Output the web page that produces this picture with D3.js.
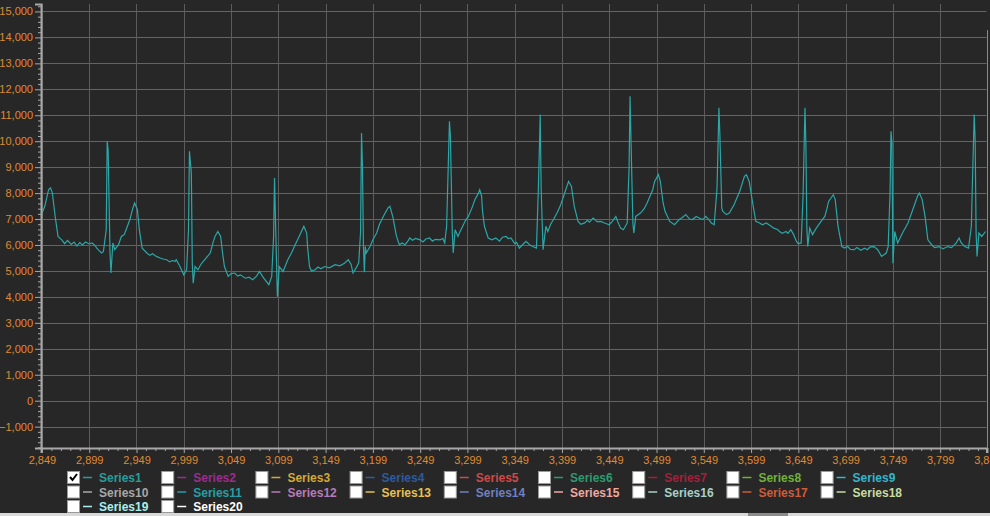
<!DOCTYPE html>
<html>
<head>
<meta charset="utf-8">
<script src="https://cdn.jsdelivr.net/npm/d3@7"></script>
<style>
  body { margin: 0; background: #272727; }
  svg { display: block; }
  .tick text { font-family: "Liberation Sans", Arial, sans-serif; font-size: 11px; fill: #e08a30; }
  .legend text { font-family: "Liberation Sans", Arial, sans-serif; font-size: 12px; font-weight: bold; }
</style>
</head>
<body>
<div id="chart"></div>
<script>
// samples of Series1
var sampleX = [2849,2852,2856,2858,2860,2863,2866,2870,2873,2876,2880,2883,2886,2889,2892,2895,2899,2902,2905,2907,
  2909,2912,2914,2917,2918,2919,2921,2922,2924,2926,2930,2933,2936,2938,2942,2945,2947,2950,2952,2955,
  2960,2963,2966,2970,2974,2977,2981,2984,2987,2990,2991,2995,2999,3002,3004,3005,3007,3008,3009,3011,
  3014,3017,3021,3027,3030,3032,3035,3038,3040,3042,3046,3049,3053,3056,3059,3064,3068,3072,3076,3079,
  3083,3085,3089,3092,3094,3095,3096,3098,3100,3104,3107,3109,3113,3116,3122,3126,3129,3130,3132,3134,
  3138,3141,3144,3148,3153,3159,3164,3169,3173,3176,3178,3181,3184,3186,3187,3188,3189,3190,3191,3192,
  3196,3199,3203,3206,3210,3215,3217,3220,3224,3227,3230,3233,3236,3238,3241,3244,3249,3252,3255,3259,
  3262,3265,3270,3273,3275,3277,3280,3281,3283,3284,3286,3289,3291,3294,3297,3300,3304,3307,3310,3312,
  3314,3315,3317,3321,3325,3329,3333,3336,3340,3342,3345,3349,3351,3354,3357,3361,3365,3368,3372,3374,
  3376,3377,3379,3382,3384,3387,3390,3394,3397,3400,3403,3406,3409,3412,3416,3419,3423,3426,3428,3432,
  3436,3440,3444,3449,3452,3456,3458,3461,3464,3468,3470,3471,3472,3474,3475,3477,3482,3486,3489,3495,
  3497,3501,3503,3506,3508,3513,3518,3521,3523,3526,3530,3534,3537,3541,3544,3548,3551,3554,3557,3560,
  3563,3565,3566,3568,3569,3573,3576,3581,3587,3592,3594,3597,3601,3604,3608,3611,3615,3618,3621,3623,
  3627,3629,3632,3636,3638,3641,3644,3647,3649,3652,3654,3656,3657,3658,3659,3661,3664,3668,3673,3677,
  3679,3681,3686,3688,3691,3695,3698,3701,3704,3708,3711,3715,3719,3722,3725,3729,3733,3737,3742,3744,
  3746,3747,3748,3749,3751,3754,3760,3765,3770,3775,3777,3780,3783,3786,3790,3793,3798,3802,3807,3811,
  3816,3819,3821,3825,3829,3832,3833,3835,3836,3837,3838,3840,3843,3847];
var sampleY = [7230,7490,8130,8200,8010,7100,6330,6200,6050,6180,6020,6110,5960,6090,6000,6120,6040,6080,5980,5880,
  5800,5690,5750,6590,10000,9680,5690,4920,6080,5820,6010,6330,6400,6590,6980,7400,7620,7360,6590,5880,
  5690,5600,5660,5560,5500,5460,5430,5350,5400,5370,5430,5170,4850,5050,6590,9610,8780,5300,4530,5170,
  5045,5250,5430,5690,6100,6330,6520,6330,5700,5170,4790,4900,4920,4800,4850,4720,4760,4660,4800,4980,
  4750,4660,4470,4790,6330,8580,6980,4010,5170,4980,5250,5430,5700,5940,6400,6720,6460,5900,5170,5000,
  5045,5150,5080,5170,5120,5240,5200,5300,5430,5250,4920,5100,5300,6500,10320,9030,6000,4950,5940,5690,
  5940,6200,6460,6800,7100,7430,7490,7100,6330,6010,6080,6010,6150,6270,6180,6250,6200,6120,6230,6270,
  6150,6220,6200,6250,6080,6720,10770,10190,6460,5690,6590,6330,6500,6720,6950,7100,7450,7750,7950,8130,
  7880,7300,6720,6270,6200,6270,6150,6300,6330,6250,6270,6050,6100,5880,6000,6140,6000,5940,5880,8130,
  11030,8130,5820,6720,6520,6800,6980,7250,7490,7800,8130,8450,8260,7490,6910,6800,6850,6950,6880,7040,
  6900,6910,6850,6780,6900,7100,6900,6650,6590,6850,9030,11730,10060,6850,6460,7100,7230,7400,7620,8130,
  8450,8710,8450,7620,7300,6910,6780,6900,6980,7050,7170,7000,6980,7100,7040,6980,7100,7000,6850,6780,
  8200,11290,10260,7430,7300,7170,7230,7550,8070,8650,8710,8450,7550,6910,6850,6780,6850,6780,6700,6650,
  6600,6520,6450,6520,6450,6590,6400,6140,6050,6080,7940,11290,9870,6650,5940,6650,6400,6650,6910,7100,
  7360,7680,7940,7750,6720,5940,5880,5950,5830,5820,5900,5800,5880,5820,5930,5940,5820,5560,5690,5940,
  8000,10380,9930,5300,6520,6080,6520,6850,7360,7880,8000,7750,7100,6200,6010,5900,5940,5850,5940,5900,
  6080,6270,6100,5940,5880,6720,8260,11030,10060,6460,5560,6460,6330,6520];

var xTicks = [2849,2899,2949,2999,3049,3099,3149,3199,3249,3299,3349,3399,3449,3499,3549,3599,3649,3699,3749,3799,3849];
var yTicks = [-1000,0,1000,2000,3000,4000,5000,6000,7000,8000,9000,10000,11000,12000,13000,14000,15000];

var seriesNames = ["Series1","Series2","Series3","Series4","Series5","Series6","Series7","Series8","Series9","Series10",
  "Series11","Series12","Series13","Series14","Series15","Series16","Series17","Series18","Series19","Series20"];
var seriesColors = ["#2a9c9c","#9b2d8f","#d4a83a","#2f5a9e","#d04848","#2e9a6e","#a3203a","#6fb23a","#33b5cc","#a8a8a8",
  "#22a0a8","#b87ab8","#e8c050","#7080c0","#f0a8a0","#a8d0c8","#d05a3a","#c8dca0","#a8f0f0","#ffffff"];
var checked = [true,false,false,false,false,false,false,false,false,false,
  false,false,false,false,false,false,false,false,false,false];

var svgWidth = 990;
var svgHeight = 516;
var plot = {left: 41, right: 986.5, top: 4, bottom: 448};

var svg = d3.select("#chart").append("svg")
  .attr("width", svgWidth)
  .attr("height", svgHeight);

svg.append("rect").attr("width", svgWidth).attr("height", svgHeight).attr("fill", "#272727");

var x = d3.scaleLinear().domain([2848, 3848]).range([plot.left, plot.right]);
var y = d3.scaleLinear().domain([-1823, 15287]).range([plot.bottom, plot.top]);

// grid
svg.append("g").selectAll("line").data(yTicks).enter().append("line")
  .attr("x1", plot.left).attr("x2", plot.right)
  .attr("y1", d => Math.round(y(d)) + 0.5).attr("y2", d => Math.round(y(d)) + 0.5)
  .attr("stroke", "#646464");
svg.append("g").selectAll("line").data(xTicks.filter(d => x(d) < plot.right)).enter().append("line")
  .attr("x1", d => Math.round(x(d)) + 0.5).attr("x2", d => Math.round(x(d)) + 0.5)
  .attr("y1", plot.top).attr("y2", plot.bottom)
  .attr("stroke", "#5c5c5c");

// series line
svg.append("clipPath").attr("id", "clip").append("rect")
  .attr("x", plot.left).attr("y", plot.top)
  .attr("width", plot.right - plot.left).attr("height", plot.bottom - plot.top);

var line = d3.line()
  .x((d, i) => x(sampleX[i]))
  .y(d => y(d));

svg.append("path")
  .datum(sampleY)
  .attr("clip-path", "url(#clip)")
  .attr("fill", "none")
  .attr("stroke", "#2ca6a6")
  .attr("stroke-width", 1.2)
  .attr("d", line);

// minor ticks
var yMinor = d3.range(-1800, 15201, 200).filter(d => d % 1000 !== 0);
var xMinor = d3.range(2849, 3848, 10).filter(d => (d - 2849) % 50 !== 0);

var yAxis = svg.append("g")
  .attr("transform", `translate(${plot.left},0)`)
  .call(d3.axisLeft(y).tickValues(yTicks).tickSize(6).tickPadding(2).tickFormat(d3.format(",")));
svg.append("g")
  .attr("transform", `translate(${plot.left},0)`)
  .call(d3.axisLeft(y).tickValues(yMinor).tickSize(3).tickFormat(""))
  .select(".domain").remove();

var xAxis = svg.append("g")
  .attr("transform", `translate(0,${plot.bottom})`)
  .call(d3.axisBottom(x).tickValues(xTicks).tickSize(5).tickPadding(3).tickFormat(d3.format(",")));
svg.append("g")
  .attr("transform", `translate(0,${plot.bottom})`)
  .call(d3.axisBottom(x).tickValues(xMinor).tickSize(3).tickFormat(""))
  .select(".domain").remove();

svg.selectAll(".domain").attr("stroke", "#a8a8a8").attr("stroke-width", 2);
svg.selectAll(".tick line").attr("stroke", "#a8a8a8");

// right border
svg.append("line")
  .attr("x1", 987.5).attr("x2", 987.5).attr("y1", 30).attr("y2", plot.bottom)
  .attr("stroke", "#8a8a8a");

// legend
var legend = svg.append("g").attr("class", "legend");
var items = legend.selectAll("g").data(seriesNames).enter().append("g")
  .attr("transform", (d, i) => `translate(${67 + (i % 9) * 94.2},${471 + Math.floor(i / 9) * 14.5})`);

items.append("rect")
  .attr("x", 0.5).attr("y", 0.5).attr("width", 12).attr("height", 12)
  .attr("fill", "#ffffff").attr("stroke", "#9a9a9a");

items.filter((d, i) => checked[i]).append("path")
  .attr("d", "M3,6 L5.5,9 L10,3")
  .attr("fill", "none").attr("stroke", "#000").attr("stroke-width", 2);

items.append("line")
  .attr("x1", 16).attr("x2", 25).attr("y1", 6.5).attr("y2", 6.5)
  .attr("stroke", (d, i) => seriesColors[i]).attr("stroke-width", 1.5);

items.append("text")
  .attr("x", 32).attr("y", 11)
  .attr("fill", (d, i) => seriesColors[i])
  .text(d => d);

// bottom strip
svg.append("rect").attr("x", 0).attr("y", 513).attr("width", svgWidth).attr("height", 3).attr("fill", "#d8d8d8");
svg.append("rect").attr("x", 748).attr("y", 513).attr("width", 40).attr("height", 3).attr("fill", "#8c8c8c");
</script>
</body>
</html>
